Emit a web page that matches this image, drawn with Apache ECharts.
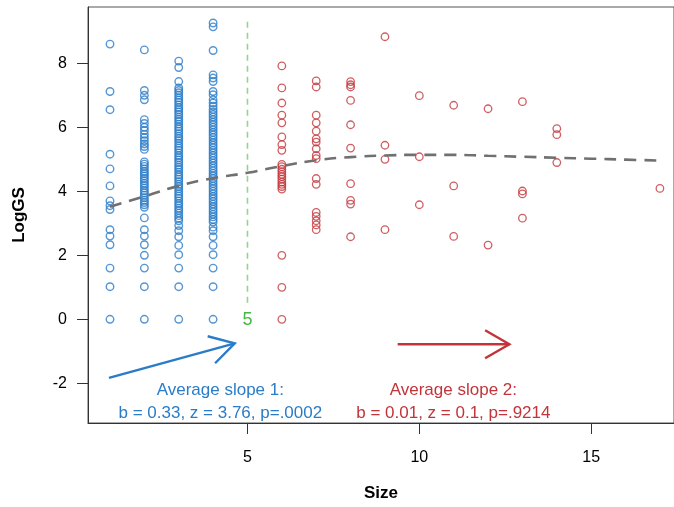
<!DOCTYPE html>
<html><head><meta charset="utf-8">
<script src="https://cdn.jsdelivr.net/npm/echarts@6/dist/echarts.min.js"></script>
<style>html,body{margin:0;padding:0;background:#fff;overflow:hidden}#c{width:674px;height:507px}</style>
</head><body><div id="c"></div>
<script>
// ---- data ----
const blueSizes = [1, 2, 3, 4];
const blue1 = [8.60, 7.12, 6.55, 5.16, 4.70, 4.17, 3.70, 3.55, 3.43, 2.80, 2.60, 2.33, 1.60, 1.02, 0];
const blue2 = [8.42, 7.15, 7.00, 6.86, 6.24, 6.12, 6.00, 5.90, 5.78, 5.68, 5.58, 5.48, 5.40, 5.31, 4.92, 4.85, 4.78, 4.70, 4.62, 4.55, 4.48, 4.40, 4.33, 4.25, 4.18, 4.10, 4.02, 3.95, 3.88, 3.80, 3.72, 3.65, 3.58, 3.50, 3.17, 2.80, 2.60, 2.33, 2.00, 1.60, 1.02, 0];
const blue3 = [8.07, 7.87, 7.43, 7.23, 7.15, 7.08, 7.00, 6.92, 6.85, 6.78, 6.70, 6.62, 6.55, 6.48, 6.40, 6.32, 6.25, 6.18, 6.10, 6.02, 5.95, 5.88, 5.80, 5.72, 5.65, 5.58, 5.50, 5.42, 5.35, 5.28, 5.20, 5.12, 5.05, 4.98, 4.90, 4.82, 4.75, 4.68, 4.60, 4.52, 4.45, 4.38, 4.30, 4.22, 4.15, 4.08, 4.00, 3.92, 3.85, 3.78, 3.70, 3.62, 3.55, 3.47, 3.40, 3.32, 3.24, 3.16, 3.08, 2.93, 2.77, 2.58, 2.31, 2.02, 1.60, 1.02, 0];
const blue4 = [9.26, 9.14, 8.40, 7.64, 7.54, 7.43, 7.12, 7.02, 6.86, 6.76, 6.66, 6.56, 6.48, 6.40, 6.32, 6.24, 6.16, 6.08, 6.00, 5.92, 5.84, 5.76, 5.68, 5.60, 5.52, 5.44, 5.36, 5.28, 5.20, 5.12, 5.04, 4.96, 4.88, 4.80, 4.72, 4.64, 4.56, 4.48, 4.40, 4.32, 4.24, 4.16, 4.08, 4.00, 3.92, 3.84, 3.76, 3.68, 3.60, 3.52, 3.44, 3.36, 3.28, 3.20, 3.12, 3.04, 2.88, 2.77, 2.58, 2.31, 2.02, 1.60, 1.02, 0];

const redSizes = [6, 7, 8, 9, 10, 11, 12, 13, 14, 17];
const red6 = [7.92, 7.23, 6.76, 6.38, 6.14, 5.70, 5.46, 5.28, 4.84, 4.77, 4.69, 4.61, 4.53, 4.46, 4.38, 4.29, 4.22, 4.15, 4.07, 2.00, 1.00, 0];
const red7 = [7.45, 7.26, 6.38, 6.14, 5.88, 5.64, 5.54, 5.33, 5.12, 5.02, 4.40, 4.22, 3.34, 3.22, 3.08, 2.95, 2.80];
const red8 = [7.43, 7.33, 7.26, 6.84, 6.08, 5.35, 4.24, 3.72, 3.60, 2.58];
const red9 = [8.83, 5.44, 5.00, 2.80];
const red10 = [6.99, 5.08, 3.58];
const red11 = [6.69, 4.17, 2.59];
const red12 = [6.58, 2.32];
const red13 = [6.80, 4.01, 3.92, 3.16];
const red14 = [5.96, 5.77, 4.90];
const red17 = [4.09];

const trendX = [1, 2, 3, 4, 5, 6, 7, 8, 9, 10, 11, 12, 13, 14, 15, 16, 17];
const trendY = [3.52, 3.84, 4.17, 4.41, 4.58, 4.79, 4.97, 5.07, 5.12, 5.14, 5.14, 5.11, 5.08, 5.05, 5.02, 4.99, 4.96];

const xTicks = [5, 10, 15];
const yTicks = [-2, 0, 2, 4, 6, 8];

const cutoff = 5;
const cutoffSpan = [0.44, 9.30];
const blueArrow = [0.97, -1.83, 4.63, -0.75];
const redArrow = [9.37, -0.78, 12.62, -0.78];
const noteBlue = ['Average slope 1:', 'b = 0.33, z = 3.76, p=.0002'];
const noteRed = ['Average slope 2:', 'b = 0.01, z = 0.1, p=.9214'];
const noteBlueAt = [4.21, -2.23, -2.93];
const noteRedAt = [10.99, -2.23, -2.93];

// ---- build ----
const BLUE = '#2a7cc8', RED = '#c3343a', GREEN_L = '#8fd68f', GREEN = '#45b845';
const FONT = '"Liberation Sans", Arial, sans-serif';
function pairs(xs, cols) { const out = []; xs.forEach((x, i) => cols[i].forEach(v => out.push([x, v]))); return out; }
const blueData = pairs(blueSizes, [blue1, blue2, blue3, blue4]);
const redData = pairs(redSizes, [red6, red7, red8, red9, red10, red11, red12, red13, red14, red17]);
const trendData = trendX.map((x, i) => [x, trendY[i]]);

function arrowItem(params, api) {
  const p0 = api.coord([api.value(0), api.value(1)]);
  const p1 = api.coord([api.value(2), api.value(3)]);
  const color = api.value(4) === 0 ? BLUE : RED;
  const ang = Math.atan2(p0[1] - p1[1], p0[0] - p1[0]);
  const L = 28, a = Math.PI / 6;
  const h1 = [p1[0] + L * Math.cos(ang + a), p1[1] + L * Math.sin(ang + a)];
  const h2 = [p1[0] + L * Math.cos(ang - a), p1[1] + L * Math.sin(ang - a)];
  return { type: 'group', children: [
    { type: 'line', shape: { x1: p0[0], y1: p0[1], x2: p1[0], y2: p1[1] }, style: { stroke: color, lineWidth: 2.4 } },
    { type: 'polyline', shape: { points: [h1, p1, h2] }, style: { stroke: color, lineWidth: 2.4, fill: null } }
  ] };
}
function noteItem(params, api) {
  const color = api.value(3) === 0 ? BLUE : RED;
  const lines = api.value(3) === 0 ? noteBlue : noteRed;
  const a = api.coord([api.value(0), api.value(1)]);
  const b = api.coord([api.value(0), api.value(2)]);
  const st = { fill: color, font: '17px ' + FONT, align: 'center', verticalAlign: 'middle' };
  return { type: 'group', children: [
    { type: 'text', x: a[0], y: a[1], style: Object.assign({ text: lines[0] }, st) },
    { type: 'text', x: b[0], y: b[1], style: Object.assign({ text: lines[1] }, st) }
  ] };
}
function cutoffItem(params, api) {
  const top = api.coord([api.value(0), api.value(2)]);
  const bot = api.coord([api.value(0), api.value(1)]);
  const lab = api.coord([api.value(0), 0]);
  return { type: 'group', children: [
    { type: 'line', shape: { x1: top[0], y1: top[1], x2: bot[0], y2: bot[1] }, style: { stroke: GREEN_L, lineWidth: 1.6, lineDash: [6, 5] } },
    { type: 'text', x: lab[0], y: lab[1] + 1, style: { text: String(api.value(0)), fill: GREEN, font: '18px ' + FONT, align: 'center', verticalAlign: 'middle' } }
  ] };
}

const chart = echarts.init(document.getElementById('c'), null, { renderer: 'canvas' });
chart.setOption({
  animation: false,
  backgroundColor: '#fff',
  grid: { left: 88, top: 7, right: -1, height: 418, show: true, borderColor: '#555', borderWidth: 1, backgroundColor: 'transparent' },
  xAxis: {
    type: 'value', min: 0.36, max: 17.41,
    name: 'Size', nameLocation: 'middle', nameGap: 62,
    nameTextStyle: { fontFamily: FONT, fontWeight: 'bold', fontSize: 17, color: '#000' },
    axisLine: { show: true, onZero: false, lineStyle: { color: '#333', width: 1 } },
    axisTick: { show: true, customValues: xTicks, length: 11, lineStyle: { color: '#333' } },
    axisLabel: { customValues: xTicks, margin: 27, fontFamily: FONT, fontSize: 16, color: '#000' },
    splitLine: { show: false }
  },
  yAxis: {
    type: 'value', min: -3.24, max: 9.76,
    name: 'LogGS', nameLocation: 'middle', nameGap: 60,
    nameTextStyle: { fontFamily: FONT, fontWeight: 'bold', fontSize: 17, color: '#000' },
    axisLine: { show: true, onZero: false, lineStyle: { color: '#333', width: 1 } },
    axisTick: { show: true, customValues: yTicks, length: 11, lineStyle: { color: '#333' } },
    axisLabel: { customValues: yTicks, margin: 21, fontFamily: FONT, fontSize: 16, color: '#000' },
    splitLine: { show: false }
  },
  series: [
    { type: 'custom', renderItem: cutoffItem, data: [[cutoff, cutoffSpan[0], cutoffSpan[1]]], clip: false, silent: true, z: 1 },
    { type: 'scatter', data: blueData, symbol: 'circle', symbolSize: 7.5, itemStyle: { color: 'rgba(0,0,0,0)', borderColor: BLUE, borderWidth: 1.4 }, z: 3 },
    { type: 'scatter', data: redData, symbol: 'circle', symbolSize: 7.5, itemStyle: { color: 'rgba(0,0,0,0)', borderColor: RED, borderWidth: 1.3 }, z: 3 },
    { type: 'line', data: trendData, smooth: true, showSymbol: false, symbol: 'none', lineStyle: { color: '#707070', width: 2.6, type: [12, 8] }, z: 4 },
    { type: 'custom', renderItem: arrowItem, data: [blueArrow.concat([0]), redArrow.concat([1])], clip: false, silent: true, z: 5 },
    { type: 'custom', renderItem: noteItem, data: [noteBlueAt.concat([0]), noteRedAt.concat([1])], clip: false, silent: true, z: 5 }
  ]
});
</script></body></html>
